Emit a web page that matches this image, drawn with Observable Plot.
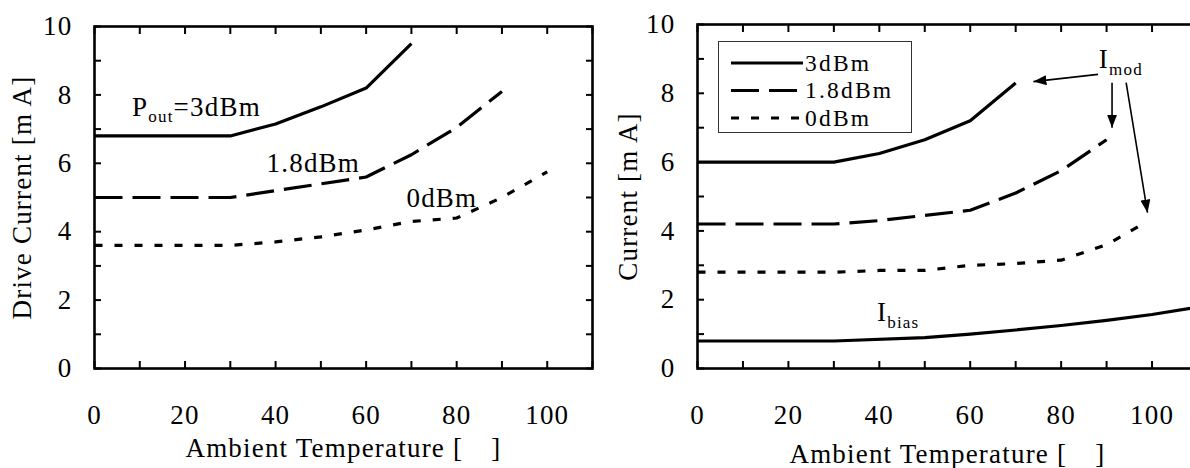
<!DOCTYPE html>
<html><head><meta charset="utf-8">
<script src="https://cdn.jsdelivr.net/npm/d3@7"></script>
<script src="https://cdn.jsdelivr.net/npm/@observablehq/plot@0.6"></script>
<style>
html,body{margin:0;padding:0;background:#fff;overflow:hidden;}
#wrap{position:relative;width:1190px;height:468px;overflow:hidden;background:#fff;}
.panel{position:absolute;top:0;}
svg text, svg tspan{letter-spacing:1.2px;font-family:"Liberation Serif","Times New Roman","DejaVu Serif",serif !important;}
#legend{position:absolute;left:718px;top:41px;width:194px;height:92px;border:1.3px solid #333;background:#fff;box-sizing:border-box;}
#legend svg{overflow:visible;}
#legend svg text{letter-spacing:2.2px;}
</style></head><body><div id="wrap"></div>
<script>
// ---------- data ----------
// Left panel: drive current vs ambient temperature
const leftT3  = [0, 30, 40, 50, 60, 70];
const leftI3  = [6.8, 6.8, 7.15, 7.65, 8.2, 9.5];
const leftT18 = [0, 30, 40, 50, 60, 70, 80, 90];
const leftI18 = [5.0, 5.0, 5.2, 5.4, 5.6, 6.25, 7.05, 8.1];
const leftT0  = [0, 30, 40, 50, 60, 70, 80, 90, 100];
const leftI0  = [3.6, 3.6, 3.7, 3.85, 4.05, 4.3, 4.4, 5.0, 5.75];

// Right panel: modulation / bias current
const rightT3  = [0, 30, 40, 50, 60, 70];
const rightI3  = [6.0, 6.0, 6.25, 6.65, 7.2, 8.3];
const rightT18 = [0, 30, 40, 50, 60, 70, 80, 90];
const rightI18 = [4.2, 4.2, 4.3, 4.45, 4.6, 5.1, 5.75, 6.65];
const rightT0  = [0, 30, 40, 50, 60, 70, 80, 90, 98];
const rightI0  = [2.8, 2.8, 2.85, 2.85, 3.0, 3.05, 3.15, 3.6, 4.2];
const biasT    = [0, 30, 50, 60, 70, 80, 90, 100, 110];
const biasI    = [0.8, 0.8, 0.9, 1.0, 1.12, 1.25, 1.4, 1.57, 1.78];

// axis ticks
const xMinorTicks = [0,10,20,30,40,50,60,70,80,90,100,110];
const xTickLabels = [0,20,40,60,80,100];
const yMinorTicks = [0,1,2,3,4,5,6,7,8,9,10];
const yTickLabels = [0,2,4,6,8,10];

// texts
const xTitle = "Ambient Temperature [\u2003]";
const leftYTitle = "Drive Current [m A]";
const rightYTitle = "Current [m A]";
const legendNames = ["3dBm", "1.8dBm", "0dBm"];

// annotations (data coordinates)
const leftNotes  = [{x: 8.3, y: 7.65, t: "P_{out}=3dBm"}, {x: 38, y: 6.0, t: "1.8dBm"}, {x: 68.9, y: 4.97, t: "0dBm"}];
const rightNotes = [{x: 88.3, y: 9.0, t: "I_{mod}"}, {x: 39.5, y: 1.63, t: "I_{bias}"}];
const arrowsFrom = [[88.1, 8.55], [91.2, 8.31], [94.3, 8.31]];
const arrowsTo   = [[73.9, 8.34], [91.2, 7.0], [99.0, 4.53]];

// ---------- helpers ----------
const zip = (xs, ys) => xs.map((x, i) => ({x, y: ys[i]}));
const dashes = {solid: null, dash: "28,10", dot: "8,12"};
const FONT = "'Liberation Serif', 'Times New Roman', 'DejaVu Serif', serif";

function subscripts(svg) {
  d3.select(svg).selectAll("text").each(function () {
    const t = this.textContent;
    const m = t.match(/^(.*?)_\{(.*?)\}(.*)$/);
    if (!m) return;
    const el = d3.select(this);
    el.text(null);
    el.append("tspan").text(m[1]);
    el.append("tspan").attr("font-size", 17).attr("dy", 7).text(m[2]);
    if (m[3]) el.append("tspan").attr("dy", -7).text(m[3]);
  });
}

function panel({series, notes, yTitle, marginLeft, marginRight, marginTop, titleDy, yTitleDx, links}) {
  const marks = [
    Plot.frame({strokeWidth: 2.6}),
    Plot.axisX(xMinorTicks, {anchor: "bottom", tickSize: 7, dy: -7, fill: "none", strokeWidth: 2, label: null}),
    Plot.axisX(xMinorTicks, {anchor: "top", tickSize: 7, dy: 7, fill: "none", strokeWidth: 2, label: null}),
    Plot.axisY(yMinorTicks, {anchor: "left", tickSize: 7, dx: 7, fill: "none", strokeWidth: 2, label: null}),
    Plot.axisY(yMinorTicks, {anchor: "right", tickSize: 7, dx: -7, fill: "none", strokeWidth: 2, label: null}),
    Plot.axisX(xTickLabels, {anchor: "bottom", tickSize: 0, tickPadding: 36, fontSize: 27, label: null}),
    Plot.axisY(yTickLabels, {anchor: "left", tickSize: 0, tickPadding: 22, fontSize: 27, label: null}),
    Plot.text([xTitle], {frameAnchor: "bottom", dy: titleDy, fontSize: 27, textAnchor: "middle", lineAnchor: "middle"}),
    Plot.text([yTitle], {frameAnchor: "left", dx: yTitleDx, rotate: -90, fontSize: 27, textAnchor: "middle", lineAnchor: "middle"}),
  ];
  for (const s of series) {
    marks.push(Plot.line(s.data, {x: "x", y: "y", stroke: "black", strokeWidth: 3.2,
      strokeDasharray: dashes[s.style], strokeLinecap: "butt", strokeLinejoin: "round", clip: true}));
  }
  marks.push(Plot.text(notes, {x: "x", y: "y", text: "t", textAnchor: "start", fontSize: 27}));
  if (links) marks.push(Plot.link(links, {x1: d => d[0][0], y1: d => d[0][1], x2: d => d[1][0], y2: d => d[1][1], stroke: "black", strokeWidth: 1.6}));
  const svg = Plot.plot({
    width: 600, height: 468,
    marginLeft, marginRight, marginTop, marginBottom: 100,
    x: {domain: [0, 110]},
    y: {domain: [0, 10]},
    style: {fontFamily: FONT, fontSize: "27px", color: "black", background: "white", overflow: "visible"},
    marks
  });
  subscripts(svg);
  if (links) {
    const defs = d3.select(svg).insert("defs", ":first-child");
    defs.append("marker").attr("id", "ah").attr("viewBox", "0 0 13 10")
      .attr("refX", 13).attr("refY", 5).attr("markerWidth", 13).attr("markerHeight", 10)
      .attr("markerUnits", "userSpaceOnUse").attr("orient", "auto")
      .append("path").attr("d", "M0,0L13,5L0,10Z").attr("fill", "black");
    d3.select(svg).selectAll('g[aria-label="link"] path').attr("marker-end", "url(#ah)");
  }
  return svg;
}

const wrap = document.getElementById("wrap");

const left = panel({
  series: [
    {data: zip(leftT3, leftI3), style: "solid"},
    {data: zip(leftT18, leftI18), style: "dash"},
    {data: zip(leftT0, leftI0), style: "dot"}
  ],
  notes: leftNotes, yTitle: leftYTitle,
  marginLeft: 94, marginRight: 8, marginTop: 26, titleDy: 80, yTitleDx: -72
});
left.classList.add("panel"); left.style.left = "0px";
wrap.appendChild(left);

const right = panel({
  series: [
    {data: zip(rightT3, rightI3), style: "solid"},
    {data: zip(rightT18, rightI18), style: "dash"},
    {data: zip(rightT0, rightI0), style: "dot"},
    {data: zip(biasT, biasI), style: "solid"}
  ],
  notes: rightNotes, yTitle: rightYTitle,
  marginLeft: 97, marginRight: 3, marginTop: 24, titleDy: 86, yTitleDx: -69,
  links: arrowsFrom.map((f, i) => [f, arrowsTo[i]])
});
right.classList.add("panel"); right.style.left = "600px";
wrap.appendChild(right);

// legend box (inside right panel)
const leg = document.createElement("div");
leg.id = "legend";
const ls = d3.create("svg").attr("width", 192).attr("height", 90)
  .style("font-family", FONT).style("position", "absolute").style("left", "0").style("top", "0");
const styles = ["solid", "dash", "dot"];
legendNames.forEach((name, i) => {
  const y = 21 + i * 27.5;
  ls.append("line").attr("x1", 12).attr("x2", 84).attr("y1", y).attr("y2", y)
    .attr("stroke", "black").attr("stroke-width", 3.2)
    .attr("stroke-dasharray", dashes[styles[i]]);
  ls.append("text").attr("x", 86).attr("y", y).attr("dy", "0.34em")
    .attr("font-size", 23.5).text(name);
});
leg.appendChild(ls.node());
wrap.appendChild(leg);
</script>
</body></html>
